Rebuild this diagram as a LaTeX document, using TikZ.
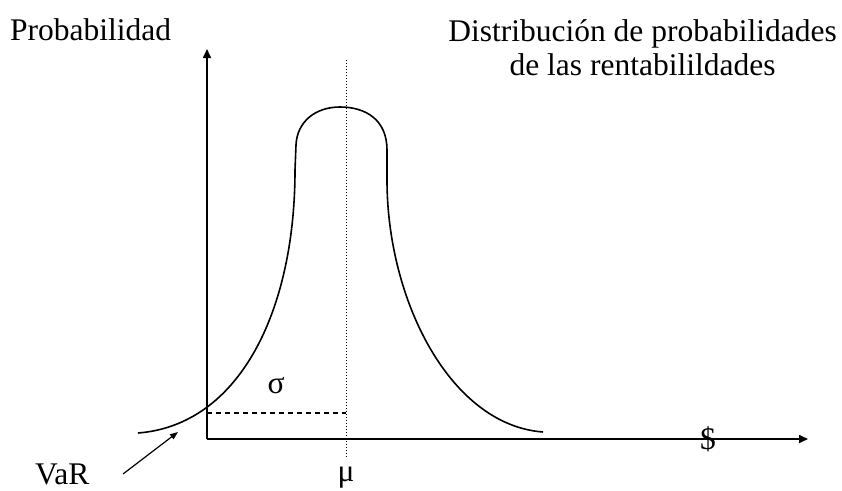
\documentclass[tikz,border=0pt]{standalone}
\usepackage{fontspec}
\setmainfont{Liberation Serif}
\usetikzlibrary{arrows.meta}

\tikzset{
  lbl/.style={inner sep=0pt, font=\fontsize{31.5}{34}\selectfont},
  axis/.style={line width=1.6pt, -{Triangle[length=9pt,width=8pt]}},
  curve/.style={line width=1.6pt},
  meanline/.style={line width=1pt, dotted},
  sigmaline/.style={line width=1.1pt, dash pattern=on 5pt off 4pt},
  pointer/.style={line width=1.2pt, -{Triangle[length=8pt,width=6pt]}}
}

\begin{document}
\begin{tikzpicture}[x=1pt,y=-1pt]
   \useasboundingbox (0,0) rectangle (842,490);

   \coordinate (Origin) at (207,439);
   \coordinate (Ytop) at (207,49);
   \coordinate (Xend) at (808,439);
   \coordinate (MuTop) at (346,60);
   \coordinate (MuBot) at (346,458);
   \coordinate (Cross) at (207,413);
   \coordinate (Hit) at (178,432);

   \node (Prob) at (10,40) [lbl, anchor=base west] {Probabilidad};
   \node (Title) at (642.5,19) [lbl, anchor=north, align=center] {Distribución de probabilidades\\de las rentabilildades};
   \node (Sigma) at (276,393) [lbl, anchor=base] {σ};
   \node (Mu) at (346,481) [lbl, anchor=base] {μ};
   \node (Dollar) at (708,449) [lbl, anchor=base] {\$};
   \node (VaR) at (35,484) [lbl, anchor=base west] {VaR};

   \draw [axis] (Origin) -- (Ytop);
   \draw [axis] (Origin) -- (Xend);

   \draw [meanline] (MuTop) -- (MuBot);
   \draw [sigmaline] (Cross) -- (Cross -| MuTop);

   \draw [curve] (138,433) .. controls (240,425) and (295,310) .. (295,170)
      -- (296,145) .. controls (297,122) and (315,107) .. (340,107)
      .. controls (366,107) and (387,120) .. (387,150) -- (387,180)
      .. controls (387,300) and (450,425) .. (543,432);

   \draw [pointer] (123,474) -- (Hit);
\end{tikzpicture}
\end{document}
